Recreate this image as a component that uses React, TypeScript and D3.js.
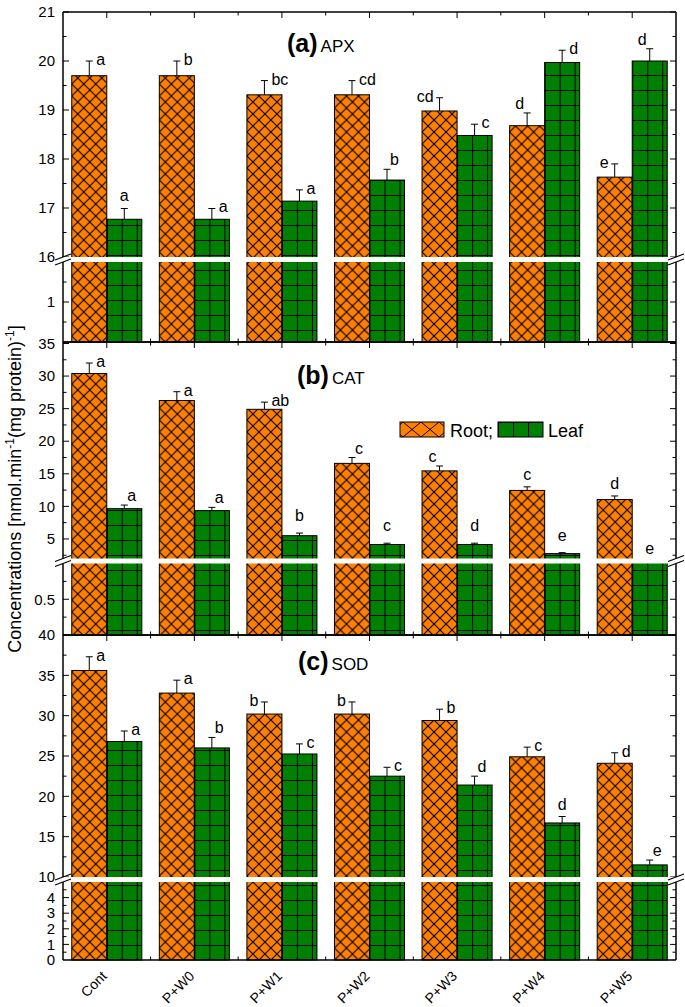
import React from 'react';
import * as d3 from 'd3';

const categories = ['Cont', 'P+W0', 'P+W1', 'P+W2', 'P+W3', 'P+W4', 'P+W5'];
const seriesKeys = ['root', 'leaf'];
const legendLabels = ['Root;', 'Leaf'];

// (a) APX
const apxRoot = [19.7, 19.7, 19.31, 19.31, 18.98, 18.68, 17.63];
const apxRootErr = [0.3, 0.3, 0.29, 0.29, 0.27, 0.26, 0.27];
const apxLeaf = [16.77, 16.77, 17.14, 17.57, 18.48, 19.97, 20.0];
const apxLeafErr = [0.22, 0.22, 0.23, 0.22, 0.23, 0.25, 0.25];
const apxRootLetters = ['a', 'b', 'bc', 'cd', 'cd', 'd', 'e'];
const apxLeafLetters = ['a', 'a', 'a', 'b', 'c', 'd', 'd'];

// (b) CAT
const catRoot = [30.4, 26.25, 24.9, 16.6, 15.45, 12.45, 11.05];
const catRootErr = [1.6, 1.35, 1.1, 0.9, 0.75, 0.55, 0.55];
const catLeaf = [9.65, 9.35, 5.5, 4.15, 4.15, 2.75, 1.5];
const catLeafErr = [0.55, 0.5, 0.4, 0.2, 0.2, 0.15, 0];
const catRootLetters = ['a', 'a', 'ab', 'c', 'c', 'c', 'd'];
const catLeafLetters = ['a', 'a', 'b', 'c', 'd', 'e', 'e'];

// (c) SOD
const sodRoot = [35.6, 32.8, 30.2, 30.2, 29.4, 24.9, 24.1];
const sodRootErr = [1.7, 1.6, 1.5, 1.5, 1.4, 1.2, 1.3];
const sodLeaf = [26.8, 26.0, 25.25, 22.5, 21.4, 16.7, 11.5];
const sodLeafErr = [1.3, 1.3, 1.25, 1.1, 1.1, 0.8, 0.6];
const sodRootLetters = ['a', 'a', 'b', 'b', 'b', 'c', 'd'];
const sodLeafLetters = ['a', 'b', 'c', 'c', 'd', 'd', 'e'];

// letter placement styles relative to error cap
const apxRootPlace = ['r', 'r', 'r', 'r', 'l', 'al', 'l'];
const apxLeafPlace = ['c', 'r', 'r', 'ar', 'r', 'r', 'al'];
const catRootPlace = ['r', 'r', 'r', 'ar', 'al', 'c', 'c'];
const catLeafPlace = ['ar', 'ar', 'ch', 'ch', 'ch', 'ch', 'c'];
const sodRootPlace = ['r', 'r', 'l', 'l', 'r', 'r', 'r'];
const sodLeafPlace = ['r', 'ar', 'r', 'r', 'ar', 'c', 'ar'];

const FONT = "'Liberation Sans', Arial, Helvetica, sans-serif";
const ORANGE = '#FF8000';
const GREEN = '#008000';
const LEFT = 63;
const RIGHT = 676;

const X = d3.scaleBand<string>().domain(categories).range([LEFT, RIGHT]).paddingInner(0.2).paddingOuter(0.1);
const inner = d3.scaleBand<string>().domain(seriesKeys).range([0, X.bandwidth()]);

type Panel = {
  key: string; tag: string; name: string; tx: number; ty: number;
  root: number[]; rootErr: number[]; leaf: number[]; leafErr: number[];
  rootLetters: string[]; leafLetters: string[]; rootPlace: string[]; leafPlace: string[];
  up: d3.ScaleLinear<number, number>; low: d3.ScaleLinear<number, number>;
  top: number; bottom: number;
  upMajor: number[]; upMinor: number[]; lowMajor: number[]; lowMinor: number[]; lowLabels: number[];
};

const panels: Panel[] = [
  {
    key: 'a', tag: '(a)', name: 'APX', tx: 287, ty: 52,
    root: apxRoot, rootErr: apxRootErr, leaf: apxLeaf, leafErr: apxLeafErr,
    rootLetters: apxRootLetters, leafLetters: apxLeafLetters, rootPlace: apxRootPlace, leafPlace: apxLeafPlace,
    up: d3.scaleLinear().domain([16, 21]).range([257, 12]),
    low: d3.scaleLinear().domain([0, 2]).range([342, 262]),
    top: 12, bottom: 342,
    upMajor: [16, 17, 18, 19, 20, 21], upMinor: [16.5, 17.5, 18.5, 19.5, 20.5],
    lowMajor: [1], lowMinor: [0.5, 1.5], lowLabels: [1],
  },
  {
    key: 'b', tag: '(b)', name: 'CAT', tx: 297, ty: 384,
    root: catRoot, rootErr: catRootErr, leaf: catLeaf, leafErr: catLeafErr,
    rootLetters: catRootLetters, leafLetters: catLeafLetters, rootPlace: catRootPlace, leafPlace: catLeafPlace,
    up: d3.scaleLinear().domain([2, 35]).range([558.5, 343.5]),
    low: d3.scaleLinear().domain([0, 1]).range([635, 563.5]),
    top: 342, bottom: 635,
    upMajor: [5, 10, 15, 20, 25, 30, 35], upMinor: [2.5, 7.5, 12.5, 17.5, 22.5, 27.5, 32.5],
    lowMajor: [0.5], lowMinor: [0.25, 0.75], lowLabels: [0.5],
  },
  {
    key: 'c', tag: '(c)', name: 'SOD', tx: 298, ty: 670,
    root: sodRoot, rootErr: sodRootErr, leaf: sodLeaf, leafErr: sodLeafErr,
    rootLetters: sodRootLetters, leafLetters: sodLeafLetters, rootPlace: sodRootPlace, leafPlace: sodLeafPlace,
    up: d3.scaleLinear().domain([10, 40]).range([877, 635]),
    low: d3.scaleLinear().domain([0, 5]).range([960, 882]),
    top: 635, bottom: 960,
    upMajor: [10, 15, 20, 25, 30, 35, 40], upMinor: [12.5, 17.5, 22.5, 27.5, 32.5, 37.5],
    lowMajor: [1, 2, 3, 4], lowMinor: [0.5, 1.5, 2.5, 3.5, 4.5], lowLabels: [0, 1, 2, 3, 4],
  },
];

function yOf(p: Panel, v: number) {
  const upMin = p.up.domain()[0];
  const lowMax = p.low.domain()[1];
  if (v >= upMin) return p.up(v);
  if (v <= lowMax) return p.low(v);
  return (p.up.range()[0] + p.low.range()[1]) / 2;
}

function labelPos(code: string, cx: number, capY: number) {
  switch (code) {
    case 'r': return { x: cx + 7, y: capY + 4, a: 'start' };
    case 'ar': return { x: cx + 3, y: capY - 4, a: 'start' };
    case 'l': return { x: cx - 6, y: capY + 4, a: 'end' };
    case 'al': return { x: cx - 3, y: capY - 4, a: 'end' };
    case 'ch': return { x: cx, y: capY - 12, a: 'middle' };
    default: return { x: cx, y: capY - 7, a: 'middle' };
  }
}

function PanelView({ p }: { p: Panel }) {
  const gapTop = p.up.range()[0];
  const gapBot = p.low.range()[1];
  const series = [
    { k: 'root', vals: p.root, errs: p.rootErr, letters: p.rootLetters, place: p.rootPlace, fill: 'url(#patRoot)' },
    { k: 'leaf', vals: p.leaf, errs: p.leafErr, letters: p.leafLetters, place: p.leafPlace, fill: 'url(#patLeaf)' },
  ];
  const centers = categories.map((c) => (X(c) as number) + X.bandwidth() / 2);
  const mids = centers.slice(0, -1).map((c, i) => (c + centers[i + 1]) / 2);
  const yTicks: { y: number; major: boolean }[] = [
    ...p.upMajor.map((v) => ({ y: p.up(v), major: true })),
    ...p.upMinor.map((v) => ({ y: p.up(v), major: false })),
    ...p.lowMajor.map((v) => ({ y: p.low(v), major: true })),
    ...p.lowMinor.map((v) => ({ y: p.low(v), major: false })),
  ];
  const bw = inner.bandwidth();
  return (
    <g>
      {yTicks.map((t, i) => (
        <g key={'yt' + i} stroke="#000" strokeWidth={1}>
          <line x1={LEFT} x2={LEFT + (t.major ? 6 : 3.5)} y1={t.y} y2={t.y} />
          <line x1={RIGHT} x2={RIGHT - (t.major ? 6 : 3.5)} y1={t.y} y2={t.y} />
        </g>
      ))}
      {centers.map((c, i) => (
        <g key={'xc' + i} stroke="#000" strokeWidth={1}>
          <line x1={c} x2={c} y1={p.top} y2={p.top + 6} />
          <line x1={c} x2={c} y1={p.bottom} y2={p.bottom - 6} />
        </g>
      ))}
      {mids.map((c, i) => (
        <g key={'xm' + i} stroke="#000" strokeWidth={1}>
          <line x1={c} x2={c} y1={p.top} y2={p.top + 3.5} />
          <line x1={c} x2={c} y1={p.bottom} y2={p.bottom - 3.5} />
        </g>
      ))}
      {series.map((s) =>
        categories.map((c, i) => {
          const x = (X(c) as number) + (inner(s.k) as number);
          const yt = yOf(p, s.vals[i]);
          return (
            <g key={s.k + c} transform={`translate(${x},0)`}>
              <rect x={0} y={yt} width={bw} height={p.bottom - yt} fill={s.fill} stroke="#000" strokeWidth={1} />
            </g>
          );
        })
      )}
      {series.map((s) =>
        categories.map((c, i) => {
          if (!s.errs[i]) return null;
          const cx = (X(c) as number) + (inner(s.k) as number) + bw / 2;
          const y0 = yOf(p, s.vals[i]);
          const y1 = yOf(p, s.vals[i] + s.errs[i]);
          return (
            <g key={'e' + s.k + c} stroke="#000" strokeWidth={1}>
              <line x1={cx} x2={cx} y1={y0} y2={y1} />
              <line x1={cx - 3.5} x2={cx + 3.5} y1={y1} y2={y1} />
            </g>
          );
        })
      )}
      <rect x={LEFT - 2} y={gapTop} width={RIGHT - LEFT + 4} height={gapBot - gapTop} fill="#fff" />
      <g stroke="#000" strokeWidth={1.5} fill="none">
        <line x1={LEFT} x2={RIGHT} y1={p.top} y2={p.top} />
        <line x1={LEFT} x2={RIGHT} y1={p.bottom} y2={p.bottom} />
        <line x1={LEFT} x2={LEFT} y1={p.top} y2={gapTop} />
        <line x1={LEFT} x2={LEFT} y1={gapBot} y2={p.bottom} />
        <line x1={RIGHT} x2={RIGHT} y1={p.top} y2={gapTop} />
        <line x1={RIGHT} x2={RIGHT} y1={gapBot} y2={p.bottom} />
      </g>
      <g stroke="#000" strokeWidth={1.2}>
        {[LEFT, RIGHT].map((ax) => (
          <g key={'br' + ax}>
            <line x1={ax - 8} x2={ax + 8} y1={gapTop + 3} y2={gapTop - 3} />
            <line x1={ax - 8} x2={ax + 8} y1={gapBot + 3} y2={gapBot - 3} />
          </g>
        ))}
      </g>
      <g fontFamily={FONT} fontSize={15} fill="#000" textAnchor="end">
        {p.upMajor.map((v) => (
          <text key={'ul' + v} x={55} y={p.up(v)} dy="0.35em">{v}</text>
        ))}
        {p.lowLabels.map((v) => (
          <text key={'ll' + v} x={55} y={p.low(v)} dy="0.35em">{v}</text>
        ))}
      </g>
      <g fontFamily={FONT} fontSize={16} fill="#000">
        {series.map((s) =>
          categories.map((c, i) => {
            const cx = (X(c) as number) + (inner(s.k) as number) + bw / 2;
            const capY = yOf(p, s.vals[i] + s.errs[i]);
            const lp = labelPos(s.place[i], cx, capY);
            return (
              <text key={'lt' + s.k + c} x={lp.x} y={lp.y} textAnchor={lp.a as any}>{s.letters[i]}</text>
            );
          })
        )}
      </g>
      <text x={p.tx} y={p.ty} fontFamily={FONT} fill="#000">
        <tspan fontWeight="bold" fontSize={25}>{p.tag}</tspan>
        <tspan fontSize={17} dx={3}>{p.name}</tspan>
      </text>
    </g>
  );
}

export default function App() {
  const bottomPanel = panels[2];
  return (
    <div style={{ position: 'absolute', left: 0, top: 0 }}>
      <svg width={685} height={1007} style={{ display: 'block', background: '#fff' }}>
        <defs>
          <pattern id="patRoot" width={12} height={12} patternUnits="userSpaceOnUse">
            <rect width={12} height={12} fill={ORANGE} />
            <path d="M-1,-1L13,13M13,-1L-1,13" stroke="#000" strokeWidth={1.1} />
          </pattern>
          <pattern id="patLeaf" width={15} height={15} patternUnits="userSpaceOnUse">
            <rect width={15} height={15} fill={GREEN} />
            <path d="M0,0.5H15M0.5,0V15" stroke="#000" strokeWidth={1} />
          </pattern>
          <pattern id="patRootLeg" width={18} height={15} patternUnits="userSpaceOnUse">
            <rect width={18} height={15} fill={ORANGE} />
            <path d="M0,0L18,15M18,0L0,15" stroke="#000" strokeWidth={1} />
          </pattern>
        </defs>
        {panels.map((p) => (
          <PanelView key={p.key} p={p} />
        ))}
        <g fontFamily={FONT} fontSize={14} fill="#000">
          {categories.map((c) => {
            const cx = (X(c) as number) + X.bandwidth() / 2;
            return (
              <text key={'xl' + c} transform={`translate(${cx + 1},${bottomPanel.bottom + 17}) rotate(-45)`} textAnchor="end">{c}</text>
            );
          })}
        </g>
        <g fontFamily={FONT} fontSize={18} fill="#000">
          <g transform="translate(403,422)">
            <rect x={-3} y={0} width={44} height={15} fill="url(#patRootLeg)" stroke="#000" strokeWidth={1} />
          </g>
          <text x={450} y={436.5}>{legendLabels[0]}</text>
          <g transform="translate(498,422)">
            <rect x={0} y={0} width={45} height={15} fill="url(#patLeaf)" stroke="#000" strokeWidth={1} />
          </g>
          <text x={548} y={436.5}>{legendLabels[1]}</text>
        </g>
        <text transform="translate(21,489) rotate(-90)" textAnchor="middle" fontFamily={FONT} fontSize={18} fill="#000">
          Concentrations [nmol.min<tspan fontSize={12} dy={-7}>-1</tspan>
          <tspan dy={7}>(mg protein)</tspan>
          <tspan fontSize={12} dy={-7}>-1</tspan>
          <tspan dy={7}>]</tspan>
        </text>
      </svg>
    </div>
  );
}
